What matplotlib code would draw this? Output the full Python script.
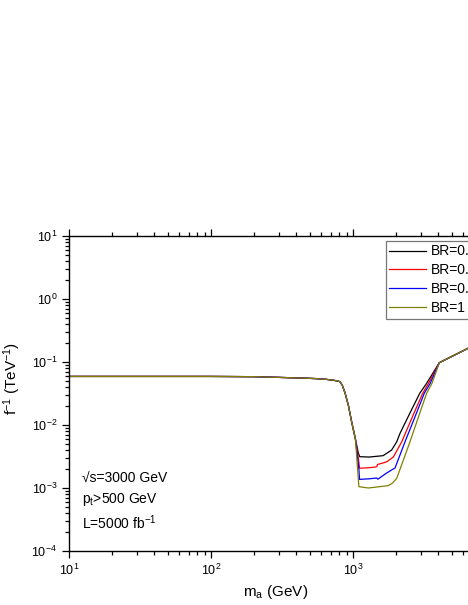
import matplotlib
matplotlib.use("Agg")
import matplotlib.pyplot as plt

plt.rcParams['font.family'] = ['Liberation Sans', 'DejaVu Sans']
plt.rcParams['mathtext.default'] = 'regular'

# shared part of all curves (flat region and the drop)
mass_common = [10, 50, 100, 200, 300, 425, 550, 650, 720, 780, 809, 840, 880, 930, 980, 1040]
f_common = [0.059, 0.059, 0.059, 0.0585, 0.057, 0.0557, 0.0545, 0.053, 0.0515, 0.050,
            0.0486, 0.043, 0.032, 0.020, 0.011, 0.006]

# high-mass tail, common again above the knee
mass_knee = [4055, 6460, 10000]
f_knee = [0.0975, 0.165, 0.27]

mass_br1 = [1090, 1115, 1300, 1630, 1870, 2031, 2145, 2518, 2955, 3303]
f_br1 = [0.0036, 0.00314, 0.0031, 0.00326, 0.0040, 0.0054, 0.0074, 0.0155, 0.032, 0.046]

mass_br2 = [1095, 1112, 1300, 1430, 1470, 1490, 1726, 1923, 2203, 2690, 3100, 3404]
f_br2 = [0.0028, 0.00206, 0.0021, 0.00215, 0.00218, 0.00236, 0.0026, 0.0031, 0.0054,
         0.0155, 0.032, 0.046]

mass_br3 = [1100, 1112, 1300, 1468, 1497, 1726, 1977, 2323, 2800, 3178, 3500]
f_br3 = [0.002, 0.00137, 0.0014, 0.00144, 0.00138, 0.00173, 0.00208, 0.0054, 0.0155,
         0.032, 0.046]

mass_br4 = [1100, 1283, 1773, 1900, 2031, 2518, 2955, 3303, 3600]
f_br4 = [0.00105, 0.00100, 0.00109, 0.00120, 0.00142, 0.0054, 0.0155, 0.032, 0.046]

labels = ['BR=0.1', 'BR=0.3', 'BR=0.5', 'BR=1']
colors = ['black', '#ff0000', '#0000ff', '#808000']

fig = plt.figure(figsize=(4.68, 6.05), dpi=100)
ax = fig.add_axes([69 / 468, 1 - 551 / 605, 426 / 468, 315 / 605])

tails = [(mass_br1, f_br1), (mass_br2, f_br2), (mass_br3, f_br3), (mass_br4, f_br4)]
for (m, f), lab, c in zip(tails, labels, colors):
    ax.plot(mass_common + m + mass_knee, f_common + f + f_knee, color=c, lw=0.9, label=lab)

ax.set_xscale('log')
ax.set_yscale('log')
ax.set_xlim(10, 1e4)
ax.set_ylim(1e-4, 1e1)

ax.spines['right'].set_visible(False)
for s in ax.spines.values():
    s.set_linewidth(1.0)
ax.tick_params(which='both', direction='out', top=True, right=False, labelsize=9, width=0.9)
ax.tick_params(which='major', length=5)
ax.tick_params(which='minor', length=3)

ax.set_xlabel('m$_a$ (GeV)', fontsize=11)
ax.set_ylabel('f$^{-1}$ (TeV$^{-1}$)', fontsize=11)
ax.xaxis.set_label_coords(0.484, -0.103)
ax.yaxis.set_label_coords(-0.107, 0.549)

ax.text(0.03, 0.23, '√s=3000 GeV', transform=ax.transAxes, fontsize=10, va='center')
ax.text(0.03, 0.162, 'p$_t$>500 GeV', transform=ax.transAxes, fontsize=10, va='center')
ax.text(0.03, 0.09, 'L=5000 fb$^{-1}$', transform=ax.transAxes, fontsize=10, va='center')

leg = fig.legend(loc='upper left', bbox_to_anchor=(386 / 468, 1 - 241 / 605),
                 fontsize=10, frameon=True, fancybox=False, labelspacing=0.35,
                 handlelength=2.6, handletextpad=0.35, borderpad=0.25, borderaxespad=0)
leg.get_frame().set_edgecolor('#555555')
leg.get_frame().set_linewidth(0.9)

fig.savefig('out.png', dpi=100)
